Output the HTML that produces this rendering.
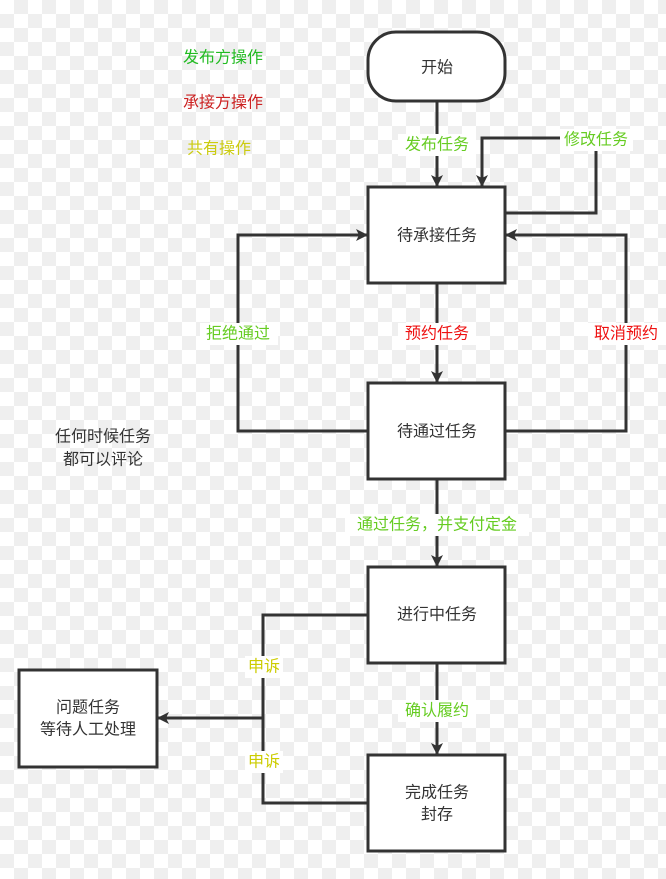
<!DOCTYPE html>
<html><head><meta charset="utf-8"><style>
html,body{margin:0;padding:0}
body{width:666px;height:879px;overflow:hidden;background-color:#fff;
background-image:linear-gradient(45deg,#efefef 25%,transparent 25%,transparent 75%,#efefef 75%),linear-gradient(45deg,#efefef 25%,transparent 25%,transparent 75%,#efefef 75%);
background-size:28px 28px;background-position:0 0,14px 14px;}
svg{position:absolute;left:0;top:0}
text{font-family:"Liberation Sans","Noto Sans CJK SC",sans-serif;font-size:16px;text-anchor:middle;dominant-baseline:central}
</style></head><body>
<svg width="666" height="879" viewBox="0 0 666 879">
<defs><marker id="a" markerWidth="12" markerHeight="12" refX="11" refY="6" orient="auto" markerUnits="userSpaceOnUse"><path d="M0,0 L12,6 L0,12 L3,6 Z" fill="#333"/></marker></defs>
<g stroke="#333" stroke-width="3" fill="none">
<line x1="437" y1="101" x2="437" y2="186" marker-end="url(#a)"/>
<polyline points="505,213 596,213 596,138 482,138 482,186" marker-end="url(#a)"/>
<polyline points="368,431 238,431 238,235 367,235" marker-end="url(#a)"/>
<polyline points="505,431 626,431 626,235 506,235" marker-end="url(#a)"/>
<line x1="437" y1="283" x2="437" y2="382" marker-end="url(#a)"/>
<line x1="437" y1="479" x2="437" y2="566" marker-end="url(#a)"/>
<line x1="437" y1="663" x2="437" y2="754" marker-end="url(#a)"/>
<polyline points="368,615 263,615 263,803 368,803"/>
<line x1="263" y1="718" x2="158" y2="718" marker-end="url(#a)"/>
</g>
<g stroke="#333" stroke-width="3" fill="#fff">
<rect x="368" y="32" width="137" height="69" rx="28"/>
<rect x="368" y="187" width="137" height="96"/>
<rect x="368" y="383" width="137" height="96"/>
<rect x="368" y="567" width="137" height="96"/>
<rect x="368" y="755" width="137" height="96"/>
<rect x="19" y="670" width="138" height="97"/>
</g>
<g fill="#fff">
<rect x="398" y="134" width="78" height="22"/><rect x="560" y="129" width="73" height="22"/>
<rect x="398" y="323" width="78" height="22"/><rect x="200" y="323" width="78" height="22"/><rect x="588" y="323" width="78" height="22"/>
<rect x="345" y="514" width="184" height="22"/><rect x="398" y="700" width="78" height="22"/>
<rect x="245" y="656" width="38" height="22"/><rect x="245" y="751" width="38" height="22"/>
</g>
<g fill="#333">
<text x="437" y="68">开始</text><text x="437" y="236">待承接任务</text><text x="437" y="432">待通过任务</text>
<text x="437" y="615">进行中任务</text><text x="437" y="793">完成任务</text><text x="437" y="815">封存</text>
<text x="88" y="708">问题任务</text><text x="88" y="730">等待人工处理</text>
<text x="103" y="437">任何时候任务</text><text x="103" y="460">都可以评论</text>
</g>
<g fill="#66cc22">
<text x="437" y="145">发布任务</text><text x="596" y="140">修改任务</text><text x="238" y="334">拒绝通过</text>
<text x="437" y="525">通过任务，并支付定金</text><text x="437" y="711">确认履约</text>
</g>
<g fill="#ee1111"><text x="437" y="334">预约任务</text><text x="626" y="334">取消预约</text></g>
<g fill="#cccc00"><text x="264" y="667">申诉</text><text x="264" y="762">申诉</text></g>
<text x="223" y="58" fill="#22bb22">发布方操作</text>
<text x="223" y="103" fill="#cc2222">承接方操作</text>
<text x="219" y="149" fill="#cccc11">共有操作</text>
</svg>
</body></html>
